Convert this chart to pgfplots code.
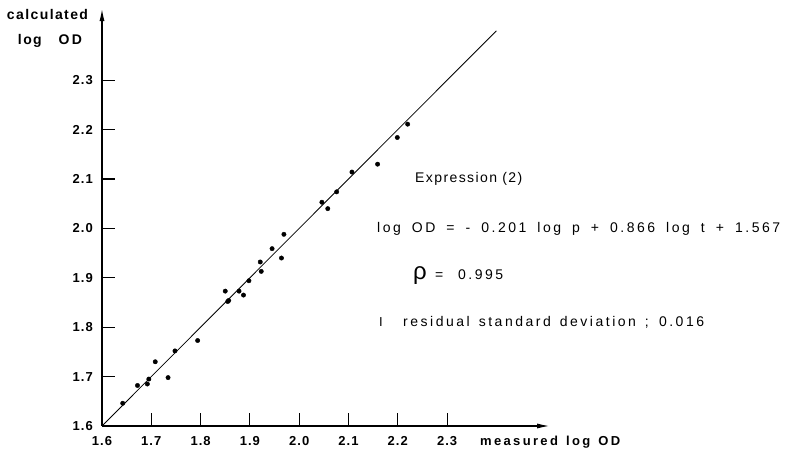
\documentclass[border=0pt]{standalone}
\usepackage{pgfplots}
\pgfplotsset{compat=1.18}
\usepackage{fontspec}
\setmainfont{Liberation Sans}
\newfontfamily\annfont[LetterSpace=18]{Liberation Sans}
\newfontfamily\expfont[LetterSpace=10]{Liberation Sans}
\newfontfamily\labfont[LetterSpace=10]{Liberation Sans}
\newfontfamily\tickfont[LetterSpace=8]{Liberation Sans}
\usetikzlibrary{arrows.meta}

\begin{document}
\begin{tikzpicture}
\begin{axis}[
    x=493pt, y=494pt,
    xmin=1.6, xmax=2.509, ymin=1.6, ymax=2.446,
    axis lines=left,
    axis line style={line width=1.5pt, -{Latex[length=13pt,width=5pt]}},
    tick align=inside,
    major tick length=13pt,
    tick style={line width=1.1pt, black},
    xtick={1.6,1.7,1.8,1.9,2.0,2.1,2.2,2.3},
    ytick={1.6,1.7,1.8,1.9,2.0,2.1,2.2,2.3},
    xticklabels={1.6,1.7,1.8,1.9,2.0,2.1,2.2,2.3},
    yticklabels={1.6,1.7,1.8,1.9,2.0,2.1,2.2,2.3},
    xticklabel style={anchor=base, inner sep=0pt, yshift=-19.5pt,
        font=\tickfont\bfseries\fontsize{13}{13}\selectfont},
    yticklabel style={anchor=east, inner sep=0pt, xshift=-9pt,
        font=\tickfont\bfseries\fontsize{13}{13}\selectfont},
    clip=false,
]
\addplot[black, line width=0.8pt] coordinates {(1.6,1.6) (2.4,2.4)};
\addplot[only marks, mark=*, mark size=2.2pt, black] coordinates {
    (1.642,1.646) (1.672,1.682) (1.692,1.685) (1.695,1.695)
    (1.708,1.730) (1.734,1.698) (1.748,1.752) (1.794,1.773)
    (1.850,1.873) (1.855,1.852) (1.857,1.854) (1.878,1.873)
    (1.887,1.865) (1.898,1.894) (1.921,1.932) (1.923,1.913)
    (1.945,1.959) (1.964,1.940) (1.969,1.988) (2.046,2.053)
    (2.058,2.040) (2.076,2.074) (2.107,2.114) (2.159,2.130)
    (2.199,2.184) (2.220,2.211)
};
\coordinate (O) at (axis cs:1.6,1.6);
\node[anchor=base, inner sep=0pt, font=\labfont\bfseries\fontsize{14}{14}\selectfont]
    at (axis cs:1.4895,2.4219) {calculated};
\node[anchor=base, inner sep=0pt, font=\labfont\bfseries\fontsize{14}{14}\selectfont]
    at (axis cs:1.4945,2.3713) {\makebox[64pt][s]{log O\,D}};
\node[anchor=base west, inner sep=0pt, font=\annfont\bfseries\fontsize{13}{13}\selectfont]
    at (axis cs:2.3667,1.5615) {\makebox[140pt][s]{measured log OD}};
\node[anchor=base west, inner sep=0pt, font=\expfont\fontsize{14}{14}\selectfont]
    at (axis cs:2.2349,2.0939) {Expression (2)};
\node[anchor=base west, inner sep=0pt, font=\annfont\fontsize{14}{14}\selectfont]
    at (axis cs:2.1578,1.9907)
    {\makebox[403pt][s]{log OD = - 0.201 log p + 0.866 log t + 1.567}};
\node[anchor=base west, inner sep=0pt, font=\fontsize{24}{24}\selectfont]
    at (axis cs:2.2309,1.8960) {ρ};
\node[anchor=base west, inner sep=0pt, font=\annfont\fontsize{14}{14}\selectfont]
    at (axis cs:2.2755,1.8960) {\makebox[68pt][s]{= 0.995}};
\node[anchor=base west, inner sep=0pt, font=\fontsize{13}{13}\selectfont]
    at (axis cs:2.1619,1.8012) {$\mathrm{I}$};
\node[anchor=base west, inner sep=0pt, font=\annfont\fontsize{14}{14}\selectfont]
    at (axis cs:2.2105,1.8012)
    {\makebox[301pt][s]{residual standard deviation ; 0.016}};
\end{axis}
\path (O) ++(-102pt,-36pt) rectangle ++(786pt,462pt);
\end{tikzpicture}
\end{document}
